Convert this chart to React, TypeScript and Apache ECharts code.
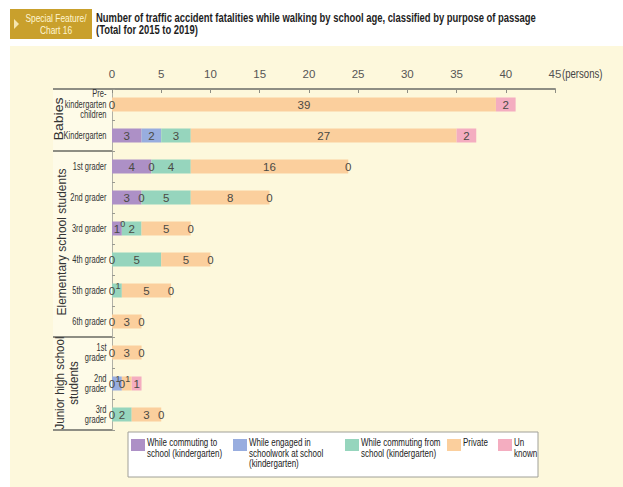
import React, { useEffect, useRef } from "react";
import * as echarts from "echarts";

// Rows, top to bottom
const rowLabels = [
  "Pre-\nkindergarten\nchildren",
  "Kindergarten",
  "1st grader",
  "2nd grader",
  "3rd grader",
  "4th grader",
  "5th grader",
  "6th grader",
  "1st\ngrader",
  "2nd\ngrader",
  "3rd\ngrader",
];

// Fatalities (persons), total for 2015 to 2019; null = not shown
const commutingTo = [0, 3, 4, 3, 1, 0, 0, 0, 0, 0, 0];
const schoolwork = [null, 2, 0, 0, 0, null, null, null, null, 1, null];
const commutingFrom = [null, 3, 4, 5, 2, 5, 1, null, null, 0, 2];
const privatePurpose = [39, 27, 16, 8, 5, 5, 5, 3, 3, 1, 3];
const unknown = [2, 2, 0, 0, 0, 0, 0, 0, 0, 1, 0];

const xTicks = [0, 5, 10, 15, 20, 25, 30, 35, 40, 45];

const seriesNames = [
  "While commuting to school (kindergarten)",
  "While engaged in schoolwork at school (kindergarten)",
  "While commuting from school (kindergarten)",
  "Private",
  "Unknown",
];
const legendTexts = [
  "While commuting to\nschool (kindergarten)",
  "While engaged in\nschoolwork at school\n(kindergarten)",
  "While commuting from\nschool (kindergarten)",
  "Private",
  "Un\nknown",
];
const seriesValues = [commutingTo, schoolwork, commutingFrom, privatePurpose, unknown];
const colors = ["#ad90c6", "#98addf", "#96d5bd", "#fbcf9d", "#f4adc0"];

const SANS = "'Liberation Sans', Arial, sans-serif";
const NARROW_SCALE = 0.8;

// Small values squeezed into narrow segments are lifted above the bar line
const raisedLabels: Record<number, number[]> = { 1: [4, 9], 2: [6], 3: [9] };

const PLOT_LEFT = 112;
const PLOT_TOP = 89;
const PLOT_W = 443;
const PLOT_H = 341;

const measureCtx = (() => {
  const c = document.createElement("canvas");
  return c.getContext("2d") as CanvasRenderingContext2D;
})();

function textWidth(text: string, size: number, weight = "normal") {
  measureCtx.font = `${weight} ${size}px 'Liberation Sans', Arial, sans-serif`;
  return Math.max(...text.split("\n").map((l) => measureCtx.measureText(l).width));
}

// Condensed-looking text: regular sans squeezed horizontally
function narrowText(
  text: string,
  x: number,
  y: number,
  style: Record<string, any>,
  extra: Record<string, any> = {},
  scaleX = NARROW_SCALE
) {
  return {
    type: "text",
    x,
    y,
    scaleX,
    ...extra,
    style: { text, fontFamily: SANS, fill: "#333", ...style },
  };
}

export default function App() {
  const ref = useRef<HTMLDivElement>(null);

  useEffect(() => {
    if (!ref.current) return;
    const chart = echarts.init(ref.current, null, { renderer: "svg" });

    const series = seriesValues.map((vals, si) => ({
      type: "bar",
      name: seriesNames[si],
      stack: "total",
      barWidth: 14,
      itemStyle: { color: colors[si] },
      label: {
        show: true,
        position: "inside",
        color: "#4a4a44",
        fontFamily: SANS,
        fontSize: 11.5,
      },
      data: vals.map((v, ri) => {
        if (raisedLabels[si] && raisedLabels[si].includes(ri)) {
          return { value: v, label: { fontSize: 9, offset: [1, -5] } };
        }
        return v;
      }),
    }));

    chart.setOption({
      animation: false,
      backgroundColor: "#ffffff",
      grid: { left: PLOT_LEFT, top: PLOT_TOP, width: PLOT_W, height: PLOT_H },
      xAxis: {
        type: "value",
        position: "top",
        min: xTicks[0],
        max: xTicks[xTicks.length - 1],
        interval: xTicks[1] - xTicks[0],
        splitLine: { show: false },
        axisLine: { show: true, lineStyle: { color: "#8e8e84", width: 2 } },
        axisTick: { show: true, inside: true, length: 4, lineStyle: { color: "#8e8e84" } },
        axisLabel: { margin: 9, fontFamily: SANS, fontSize: 11.5, color: "#555" },
      },
      yAxis: {
        type: "category",
        inverse: true,
        data: rowLabels,
        axisLine: { show: true, lineStyle: { color: "#b0b0a6", width: 1 } },
        axisTick: { show: true, inside: true, length: 3, lineStyle: { color: "#9a9a90" } },
        axisLabel: { show: false },
      },
      series,
    });

    // Category labels placed on the axis' own band centres
    const rowTexts = rowLabels.map((lab) => {
      const y = chart.convertToPixel({ yAxisIndex: 0 }, lab) as number;
      return narrowText(
        lab,
        106.5,
        y,
        {
          align: "right",
          verticalAlign: "middle",
          fontSize: 10,
          lineHeight: 10.5,
          fill: "#333",
        },
        {},
        0.75
      );
    });

    const sepLine = (y: number) => ({
      type: "line",
      shape: { x1: 53, y1: y, x2: 112, y2: y },
      style: { stroke: "#8e8e84", lineWidth: 2 },
    });

    const groupLabel = (text: string, x: number, y: number, span: number) => {
      const size = 13;
      return narrowText(
        text,
        x,
        y,
        { align: "center", verticalAlign: "middle", fontSize: size, lineHeight: 14, fill: "#333" },
        { rotation: Math.PI / 2 },
        span / textWidth(text, size)
      );
    };

    const legendLeft = [131, 233, 345, 447, 498];
    const legendItems: any[] = [];
    legendTexts.forEach((txt, i) => {
      legendItems.push({
        type: "rect",
        shape: { x: legendLeft[i], y: 439, width: 14, height: 12 },
        style: { fill: colors[i] },
      });
      legendItems.push(
        narrowText(txt, legendLeft[i] + 16, 437.5, {
          verticalAlign: "top",
          fontSize: 10,
          lineHeight: 10.5,
          fill: "#222",
        })
      );
    });

    const title =
      "Number of traffic accident fatalities while walking by school age, classified by purpose of passage\n(Total for 2015 to 2019)";

    chart.setOption({
      graphic: [
        // page panel
        { type: "rect", z: -20, shape: { x: 10, y: 46, width: 613, height: 441 }, style: { fill: "#fdf8dc" } },
        { type: "rect", z: -19, shape: { x: 53, y: 89, width: 59, height: 341 }, style: { fill: "#fefbe8" } },
        // header badge
        { type: "rect", shape: { x: 10, y: 9, width: 82, height: 30 }, style: { fill: "#c9a02c" } },
        { type: "polygon", shape: { points: [[14, 19], [19, 24], [14, 29]] }, style: { fill: "#f5e6b0" } },
        narrowText("Special Feature/\nChart 16", 56, 24, {
          align: "center",
          verticalAlign: "middle",
          fontSize: 10.5,
          lineHeight: 12,
          fill: "#fff6d2",
        }),
        narrowText(
          title,
          96,
          11,
          { fontWeight: "bold", fontSize: 12, lineHeight: 12.5, fill: "#1e1e1e" },
          {},
          440 / textWidth(title, 12, "bold")
        ),
        // unit
        narrowText("(persons)", 562, 74, { verticalAlign: "middle", fontSize: 12, fill: "#444" }),
        // group separators and group names
        sepLine(89),
        sepLine(151),
        sepLine(337),
        sepLine(430),
        groupLabel("Babies", 59, 119, 43),
        groupLabel("Elementary school students", 62, 242, 147),
        groupLabel("Junior high school\nstudents", 67, 383, 93),
        ...rowTexts,
        // legend frame and entries
        {
          type: "rect",
          z: -5,
          shape: { x: 128, y: 432, width: 410, height: 45 },
          style: { fill: "#ffffff", stroke: "#a0a098", lineWidth: 1 },
        },
        ...legendItems,
      ],
    });

    return () => chart.dispose();
  }, []);

  return (
    <div
      ref={ref}
      style={{ position: "fixed", left: 0, top: 0, width: 623, height: 487 }}
    />
  );
}
